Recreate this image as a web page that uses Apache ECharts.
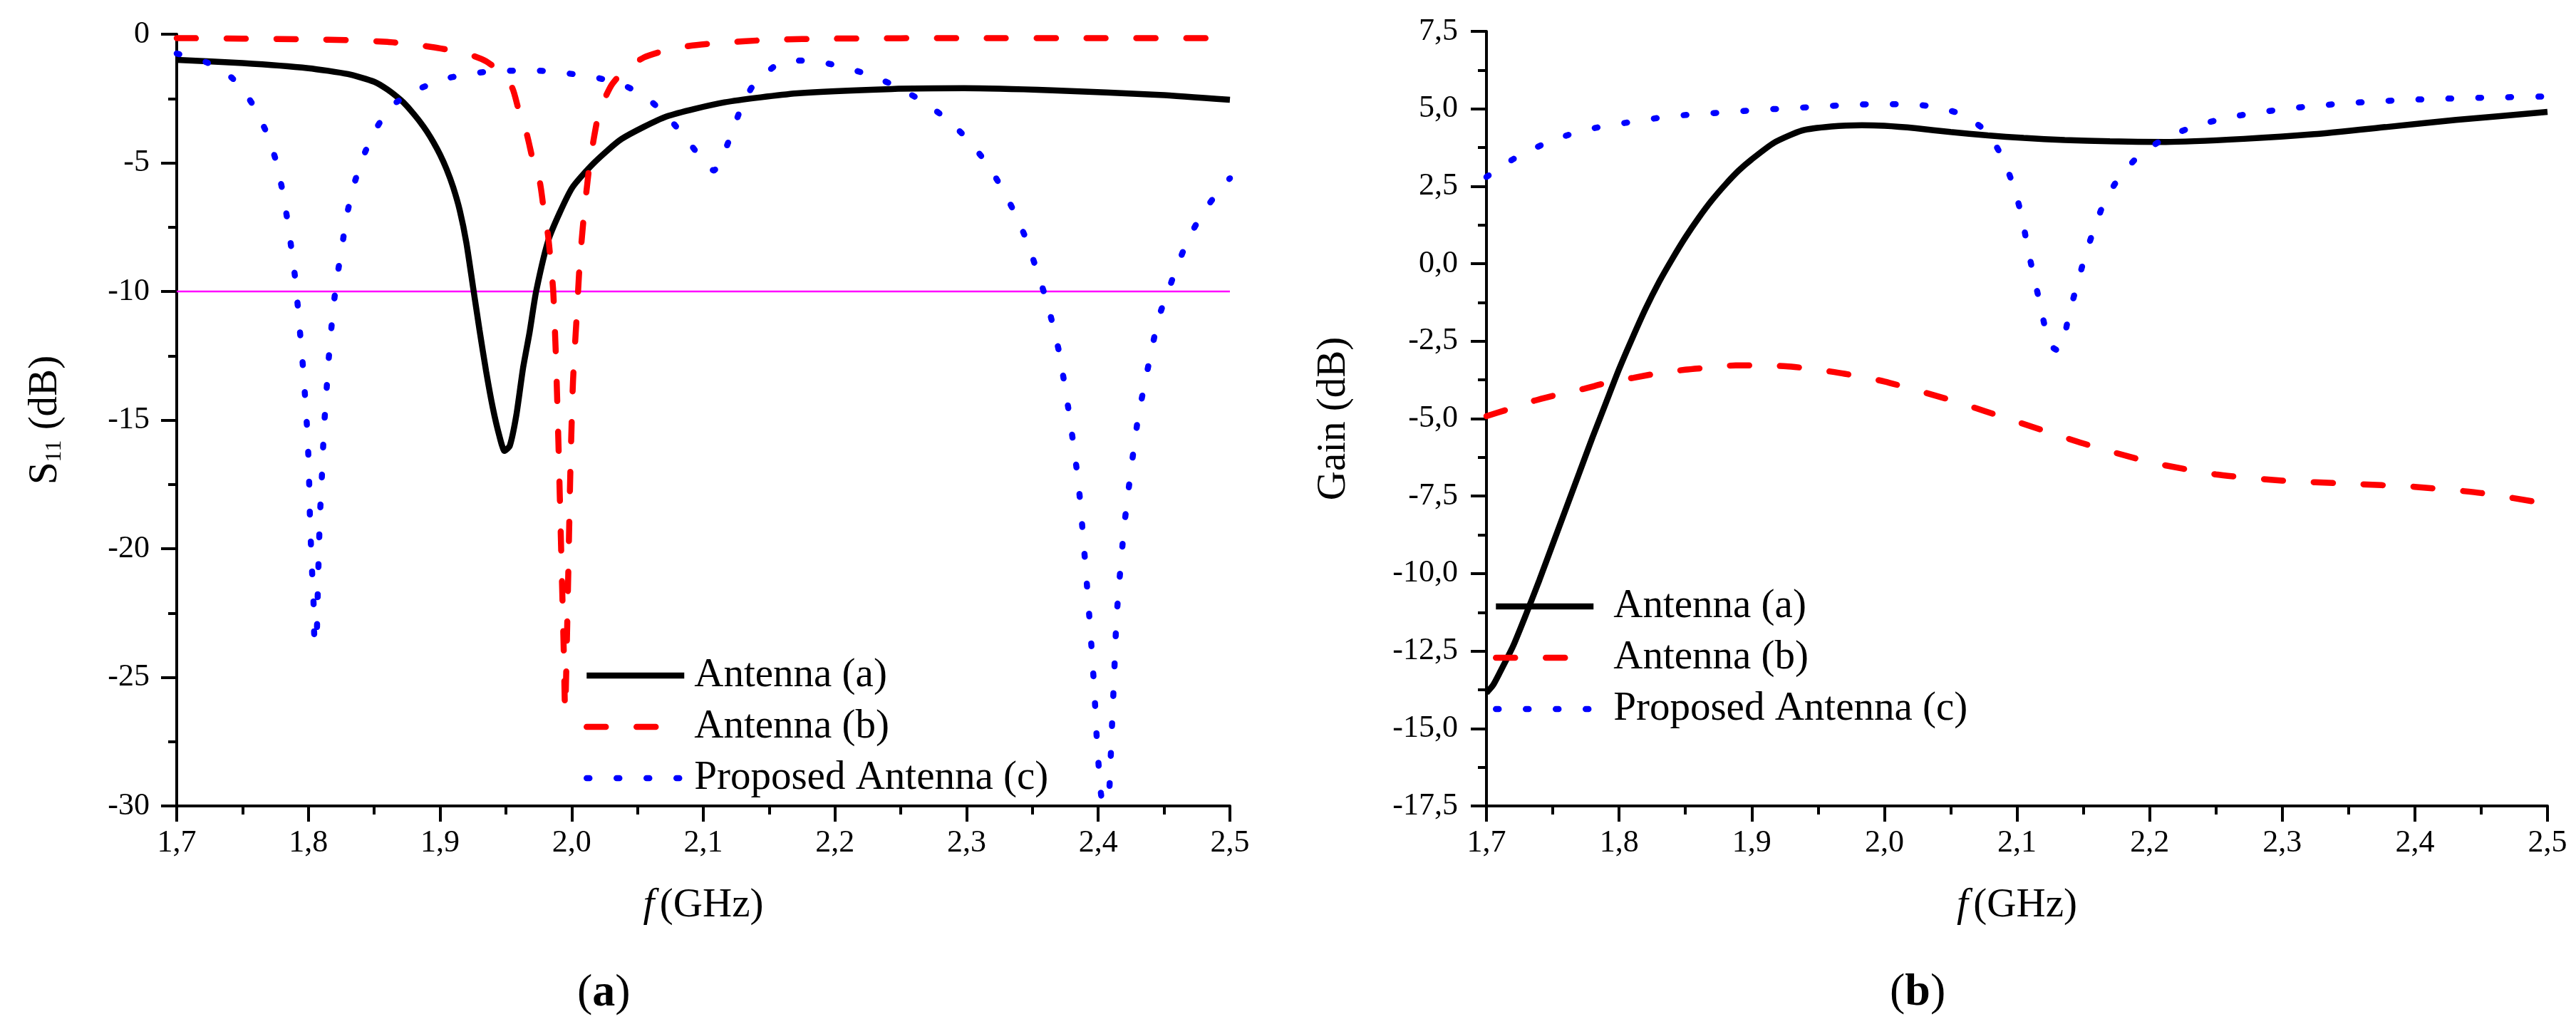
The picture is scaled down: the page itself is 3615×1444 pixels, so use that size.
<!DOCTYPE html>
<html><head><meta charset="utf-8">
<script src="https://cdn.jsdelivr.net/npm/echarts@6/dist/echarts.min.js"></script>
<style>html,body{margin:0;padding:0;background:#fff}#c{width:3615px;height:1444px}</style>
</head><body><div id="c"></div>
<script>
const FONT = 'Liberation Serif';

// ---------- tick labels ----------
const xTickValues = [1.7, 1.8, 1.9, 2.0, 2.1, 2.2, 2.3, 2.4, 2.5];
const xTickLabels = ['1,7', '1,8', '1,9', '2,0', '2,1', '2,2', '2,3', '2,4', '2,5'];
const s11TickValues = [-30, -25, -20, -15, -10, -5, 0];
const s11TickLabels = ['-30', '-25', '-20', '-15', '-10', '-5', '0'];
const gainTickValues = [-17.5, -15, -12.5, -10, -7.5, -5, -2.5, 0, 2.5, 5, 7.5];
const gainTickLabels = ['-17,5', '-15,0', '-12,5', '-10,0', '-7,5', '-5,0', '-2,5', '0,0', '2,5', '5,0', '7,5'];

const seriesNames = ['Antenna (a)', 'Antenna (b)', 'Proposed Antenna (c)'];
const threshold = -10;

// ---------- (a) S11 ----------
const fS11A = [1.70, 1.75, 1.80, 1.83, 1.85, 1.86, 1.87, 1.875, 1.88, 1.885, 1.89, 1.895, 1.90, 1.905, 1.91, 1.915, 1.92, 1.925, 1.93, 1.935, 1.94, 1.945, 1.949, 1.953, 1.958, 1.963, 1.968, 1.973, 1.983, 2.0, 2.017, 2.038, 2.072, 2.116, 2.171, 2.243, 2.298, 2.365, 2.447, 2.5];
const s11A  = [-1.0, -1.12, -1.32, -1.55, -1.85, -2.15, -2.55, -2.8, -3.1, -3.42, -3.78, -4.2, -4.68, -5.25, -5.95, -6.85, -8.1, -9.8, -11.5, -13.1, -14.5, -15.6, -16.2, -16.0, -14.8, -13.0, -11.6, -10.0, -7.9, -6.0, -5.0, -4.07, -3.2, -2.65, -2.3, -2.13, -2.1, -2.18, -2.36, -2.55];

const fS11B = [1.70, 1.75, 1.80, 1.83, 1.86, 1.88, 1.90, 1.92, 1.935, 1.945, 1.955, 1.96, 1.966, 1.971, 1.976, 1.979, 1.982, 1.984, 1.986, 1.988, 1.990, 1.992, 1.994, 1.995, 1.997, 1.999, 2.001, 2.004, 2.006, 2.009, 2.013, 2.017, 2.021, 2.03, 2.04, 2.055, 2.07, 2.09, 2.11, 2.15, 2.2, 2.3, 2.4, 2.5];
const s11B  = [-0.15, -0.17, -0.2, -0.23, -0.3, -0.4, -0.55, -0.75, -1.05, -1.45, -2.1, -3.0, -3.9, -5.0, -5.8, -6.9, -7.8, -8.8, -10.0, -12.5, -16.0, -20.0, -24.0, -26.3, -22.0, -17.0, -13.5, -10.8, -9.0, -7.2, -5.3, -4.0, -3.0, -2.0, -1.4, -0.9, -0.65, -0.45, -0.35, -0.22, -0.17, -0.15, -0.15, -0.15];

const fS11C = [1.70, 1.723, 1.742, 1.757, 1.768, 1.775, 1.780, 1.784, 1.787, 1.790, 1.792, 1.794, 1.796, 1.7975, 1.799, 1.8, 1.8007, 1.8012, 1.802, 1.803, 1.804, 1.8045, 1.806, 1.807, 1.808, 1.8088, 1.81, 1.811, 1.812, 1.8135, 1.815, 1.817, 1.819, 1.822, 1.8256, 1.829, 1.834, 1.841, 1.85, 1.863, 1.883, 1.905, 1.928, 1.952, 1.975, 1.998, 2.02, 2.042, 2.06, 2.077, 2.092, 2.103, 2.108, 2.114, 2.12, 2.128, 2.138, 2.158, 2.181, 2.203, 2.225, 2.247, 2.266, 2.285, 2.30, 2.315, 2.327, 2.338, 2.347, 2.354, 2.361, 2.37, 2.378, 2.385, 2.39, 2.394, 2.397, 2.399, 2.402, 2.405, 2.408, 2.41, 2.412, 2.414, 2.42, 2.43, 2.44, 2.446, 2.453, 2.46, 2.469, 2.48, 2.493, 2.5];
const s11C  = [-0.75, -1.1, -1.7, -2.67, -3.8, -4.85, -6.0, -7.2, -8.3, -9.5, -10.6, -11.8, -13.0, -14.1, -15.3, -16.4, -17.6, -18.8, -19.9, -21.1, -22.2, -23.4, -23.7, -22.0, -20.0, -18.7, -17.5, -16.3, -15.2, -14.1, -12.9, -11.7, -10.6, -9.4, -8.25, -7.1, -5.96, -4.85, -3.8, -2.8, -2.15, -1.72, -1.5, -1.42, -1.42, -1.53, -1.7, -2.04, -2.6, -3.45, -4.4, -5.1, -5.3, -4.8, -4.07, -2.96, -1.98, -1.12, -1.02, -1.24, -1.56, -2.04, -2.6, -3.3, -4.05, -5.0, -6.0, -7.1, -8.2, -9.3, -10.4, -12.3, -14.8, -17.5, -20.5, -23.2, -25.5, -27.5, -29.5, -30.5, -29.7, -27.4, -25.0, -22.6, -19.0, -15.0, -12.4, -11.0, -10.0, -9.0, -7.9, -6.9, -6.0, -5.6];

// ---------- (b) Gain ----------
const fGainA = [1.70, 1.705, 1.71, 1.72, 1.73, 1.74, 1.75, 1.76, 1.77, 1.78, 1.79, 1.80, 1.81, 1.82, 1.83, 1.84, 1.85, 1.86, 1.87, 1.88, 1.89, 1.90, 1.917, 1.938, 1.96, 1.983, 2.0, 2.024, 2.05, 2.078, 2.105, 2.136, 2.17, 2.212, 2.271, 2.324, 2.378, 2.431, 2.5];
const gainA  = [-13.85, -13.6, -13.2, -12.35, -11.3, -10.2, -9.05, -7.9, -6.75, -5.6, -4.5, -3.4, -2.4, -1.45, -0.6, 0.15, 0.85, 1.48, 2.05, 2.55, 3.0, 3.37, 3.91, 4.30, 4.43, 4.47, 4.45, 4.37, 4.25, 4.14, 4.06, 3.99, 3.95, 3.93, 4.03, 4.18, 4.41, 4.64, 4.9];

const fGainB = [1.70, 1.717, 1.736, 1.755, 1.774, 1.791, 1.811, 1.830, 1.850, 1.868, 1.888, 1.905, 1.926, 1.945, 1.97, 2.0, 2.05, 2.1, 2.15, 2.2, 2.25, 2.3, 2.35, 2.4, 2.45, 2.5];
const gainB  = [-4.92, -4.69, -4.42, -4.21, -4.03, -3.84, -3.68, -3.53, -3.42, -3.35, -3.28, -3.28, -3.31, -3.39, -3.55, -3.8, -4.4, -5.1, -5.8, -6.4, -6.8, -7.0, -7.1, -7.2, -7.4, -7.75];

const fGainC = [1.70, 1.7207, 1.742, 1.764, 1.786, 1.81, 1.832, 1.855, 1.878, 1.901, 1.924, 1.947, 1.970, 1.993, 2.016, 2.039, 2.060, 2.078, 2.09, 2.098, 2.104, 2.108, 2.113, 2.118, 2.122, 2.127, 2.131, 2.135, 2.139, 2.145, 2.151, 2.158, 2.166, 2.177, 2.193, 2.213, 2.235, 2.257, 2.280, 2.303, 2.326, 2.349, 2.372, 2.395, 2.418, 2.441, 2.465, 2.5];
const gainC  = [2.8, 3.39, 3.84, 4.19, 4.42, 4.58, 4.72, 4.82, 4.88, 4.95, 5.01, 5.06, 5.12, 5.15, 5.15, 5.06, 4.79, 4.22, 3.34, 2.42, 1.46, 0.51, -0.46, -1.42, -2.2, -2.7, -2.8, -2.5, -1.68, -0.73, 0.19, 1.11, 2.0, 2.78, 3.53, 4.08, 4.45, 4.70, 4.87, 5.0, 5.1, 5.18, 5.24, 5.29, 5.32, 5.35, 5.37, 5.4];

function pairs(xs, ys) { return xs.map((x, i) => [x, ys[i]]); }
function lookup(vals, labels) {
  return v => { let best = 0; vals.forEach((t, i) => { if (Math.abs(t - v) < Math.abs(vals[best] - v)) best = i; }); return labels[best]; };
}

const LW = 8.5;
const styles = [
  { color: '#000000', width: LW, type: 'solid', cap: 'butt' },
  { color: '#ff0000', width: LW, type: [27, 43], cap: 'round' },
  { color: '#0000ff', width: LW, type: [4, 38], cap: 'round' }
];

const axisCommon = {
  axisLine: { show: true, onZero: false, lineStyle: { color: '#000', width: 4 } },
  axisTick: { show: true, inside: false, length: 22, lineStyle: { color: '#000', width: 4 } },
  minorTick: { show: true, splitNumber: 2, length: 12, lineStyle: { color: '#000', width: 4 } },
  splitLine: { show: false },
  minorSplitLine: { show: false }
};
const labelCommon = { color: '#000', fontFamily: FONT, fontSize: 44 };
const titleRich = {
  m: { fontFamily: FONT, fontSize: 57, color: '#000' },
  sp: { fontFamily: FONT, fontSize: 30, color: '#000' },
  i: { fontFamily: FONT, fontSize: 57, color: '#000', fontStyle: 'italic' }
};

function xAxis(gridIndex) {
  return Object.assign({}, axisCommon, {
    type: 'value', gridIndex, min: 1.7, max: 2.5, interval: 0.1,
    axisLabel: Object.assign({}, labelCommon, { margin: 30, formatter: lookup(xTickValues, xTickLabels) }),
    name: '{i|f}{sp| }{m|(GHz)}', nameLocation: 'middle', nameGap: 112,
    nameTextStyle: { fontFamily: FONT, rich: titleRich }
  });
}

function lineSeries(name, xi, data, st) {
  return {
    type: 'line', name, xAxisIndex: xi, yAxisIndex: xi, data, symbol: 'none', smooth: 0.2,
    lineStyle: { color: st.color, width: st.width, type: st.type, cap: st.cap },
    itemStyle: { color: st.color }, z: 3
  };
}

const legendCommon = {
  orient: 'vertical', itemWidth: 137, itemHeight: 20, itemGap: 12, selectedMode: false,
  data: seriesNames,
  itemStyle: { color: 'rgba(0,0,0,0)', borderWidth: 0, opacity: 0 },
  lineStyle: { width: LW },
  textStyle: { fontFamily: FONT, fontSize: 57, color: '#000', lineHeight: 60 }
};

const option = {
  animation: false,
  backgroundColor: '#ffffff',
  textStyle: { fontFamily: FONT },
  grid: [
    { left: 248, top: 48, width: 1478, height: 1083 },
    { left: 2086, top: 44, width: 1489, height: 1087 }
  ],
  xAxis: [xAxis(0), xAxis(1)],
  yAxis: [
    Object.assign({}, axisCommon, {
      type: 'value', gridIndex: 0, min: -30, max: 0, interval: 5,
      axisLabel: Object.assign({}, labelCommon, { margin: 38, formatter: lookup(s11TickValues, s11TickLabels) }),
      name: '{m|S}{s|11}{m| (dB)}', nameLocation: 'middle', nameGap: 155,
      nameTextStyle: { fontFamily: FONT, rich: {
        m: { fontFamily: FONT, fontSize: 57, color: '#000', lineHeight: 57, verticalAlign: 'top' },
        s: { fontFamily: FONT, fontSize: 32, color: '#000', lineHeight: 32, padding: [40, 0, 0, 0], verticalAlign: 'bottom' }
      } }
    }),
    Object.assign({}, axisCommon, {
      type: 'value', gridIndex: 1, min: -17.5, max: 7.5, interval: 2.5,
      axisLabel: Object.assign({}, labelCommon, { margin: 40, formatter: lookup(gainTickValues, gainTickLabels) }),
      name: '{m|Gain (dB)}', nameLocation: 'middle', nameGap: 185,
      nameTextStyle: { fontFamily: FONT, rich: titleRich }
    })
  ],
  legend: [
    Object.assign({}, legendCommon, { left: 814, top: 913, textStyle: Object.assign({}, legendCommon.textStyle, { padding: [0, 0, 0, 9] }) }),
    Object.assign({}, legendCommon, { left: 2090, top: 816, textStyle: Object.assign({}, legendCommon.textStyle, { padding: [0, 0, 0, 23] }) })
  ],
  graphic: [
    { type: 'text', left: 850 - 40, top: 1362, style: { text: '{p|(}{b|a}{p|)}', rich: {
      p: { fontFamily: FONT, fontSize: 64, fill: '#000' }, b: { fontFamily: FONT, fontSize: 64, fontWeight: 'bold', fill: '#000' } } } },
    { type: 'text', left: 2692 - 40, top: 1361, style: { text: '{p|(}{b|b}{p|)}', rich: {
      p: { fontFamily: FONT, fontSize: 64, fill: '#000' }, b: { fontFamily: FONT, fontSize: 64, fontWeight: 'bold', fill: '#000' } } } }
  ],
  series: [
    { type: 'line', name: 'threshold', xAxisIndex: 0, yAxisIndex: 0, symbol: 'none',
      data: [[xTickValues[0], threshold], [xTickValues[xTickValues.length - 1], threshold]],
      lineStyle: { color: '#ff00ff', width: 2.5 }, z: 2 },
    lineSeries(seriesNames[0], 0, pairs(fS11A, s11A), styles[0]),
    lineSeries(seriesNames[1], 0, pairs(fS11B, s11B), styles[1]),
    lineSeries(seriesNames[2], 0, pairs(fS11C, s11C), styles[2]),
    lineSeries(seriesNames[0], 1, pairs(fGainA, gainA), styles[0]),
    lineSeries(seriesNames[1], 1, pairs(fGainB, gainB), styles[1]),
    lineSeries(seriesNames[2], 1, pairs(fGainC, gainC), styles[2])
  ]
};

const chart = echarts.init(document.getElementById('c'), null, { renderer: 'canvas' });
chart.setOption(option);
</script>
</body></html>
